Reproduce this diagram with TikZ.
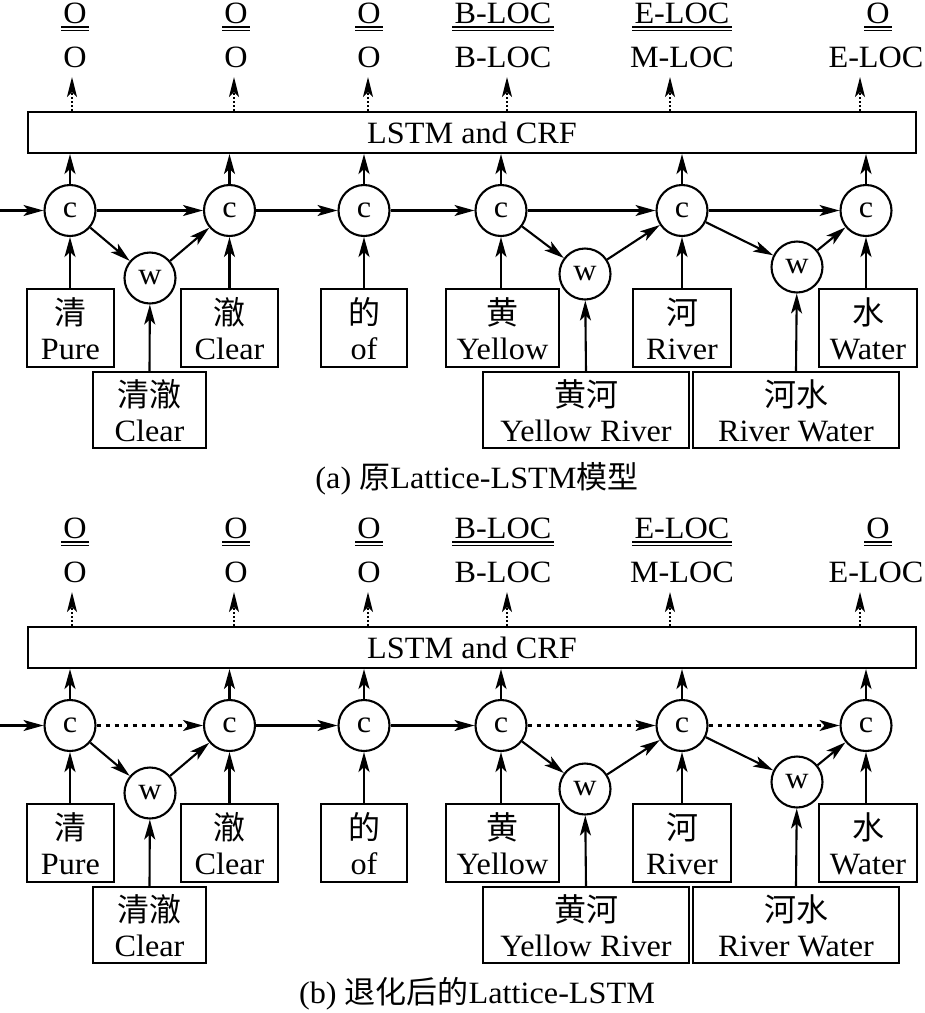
\documentclass[tikz,border=0pt]{standalone}
\usepackage{fontspec}
\setmainfont{Liberation Serif}[FakeStretch=1.04]
\newfontfamily\cjk{Noto Sans CJK SC}
\usetikzlibrary{arrows.meta}
\tikzset{
  txt/.style={font=\fontsize{31}{34}\selectfont, inner sep=0pt},
  cnode/.style={circle, draw, line width=2.1pt, minimum size=51pt, inner sep=0pt, font=\fontsize{31}{34}\selectfont},
  wbox/.style={draw, line width=2.1pt, inner sep=0pt},
  lbox/.style={draw, line width=2.1pt, minimum width=888pt, minimum height=41pt, inner sep=0pt, font=\fontsize{31}{34}\selectfont},
  arr/.style={line width=2.1pt, -{Stealth[length=20pt,width=11pt,inset=5pt]}},
  uparr/.style={line width=1.7pt, dash pattern=on 2pt off 2pt, -{Stealth[length=20pt,width=10pt,inset=5pt]}},
  dotarr/.style={arr, dash pattern=on 4pt off 5pt},
  solidarr/.style={arr},
  uline/.style={line width=1.6pt},
}
\newcommand\wordbox[7]{%
  \node[wbox, minimum width=#4pt, minimum height=#5pt] (#1) at (#2,#3) {};
  \node[txt, anchor=base] (#1cn) at (#2,#3-4) {\cjk\fontsize{32}{34}\selectfont #6};
  \node[txt, anchor=base] (#1en) at (#2,#3+31.5) {#7};
}
\newcommand\dul[1]{%
  \draw[uline] ([xshift=-2pt,yshift=-3.5pt]#1.south west) -- ([xshift=2pt,yshift=-3.5pt]#1.south east);
  \draw[uline] ([xshift=-2pt,yshift=-7pt]#1.south west) -- ([xshift=2pt,yshift=-7pt]#1.south east);
}
\newcommand\drawpanel[5]{%
  % gold labels
  \node[txt, anchor=base] (ga1#1) at (75,23) {O};
  \node[txt, anchor=base] (ga2#1) at (236,23) {O};
  \node[txt, anchor=base] (ga3#1) at (369,23) {O};
  \node[txt, anchor=base] (ga4#1) at (503,23) {B-LOC};
  \node[txt, anchor=base] (ga5#1) at (682,23) {E-LOC};
  \node[txt, anchor=base] (ga6#1) at (878,23) {O};
  \dul{ga1#1}\dul{ga2#1}\dul{ga3#1}\dul{ga4#1}\dul{ga5#1}\dul{ga6#1}
  % predicted labels
  \node[txt, anchor=base] (pa1#1) at (75,67) {O};
  \node[txt, anchor=base] (pa2#1) at (236,67) {O};
  \node[txt, anchor=base] (pa3#1) at (369,67) {O};
  \node[txt, anchor=base] (pa4#1) at (503,67) {B-LOC};
  \node[txt, anchor=base] (pa5#1) at (682,67) {M-LOC};
  \node[txt, anchor=base] (pa6#1) at (876,67) {E-LOC};
  \coordinate (t1#1) at (72,77);
  \coordinate (t2#1) at (234,77);
  \coordinate (t3#1) at (368,77);
  \coordinate (t4#1) at (507,77);
  \coordinate (t5#1) at (670,77);
  \coordinate (t6#1) at (860,77);
  % LSTM box
  \node[lbox] (lstm#1) at (472,132.5) {LSTM and CRF};
  % cells
  \node[cnode] (c1#1) at (70,210.5) {c};
  \node[cnode] (c2#1) at (229.5,210.5) {c};
  \node[cnode] (c3#1) at (364,210.5) {c};
  \node[cnode] (c4#1) at (501,210.5) {c};
  \node[cnode] (c5#1) at (682,210.5) {c};
  \node[cnode] (c6#1) at (866,210.5) {c};
  \node[cnode] (w1#1) at (150,278) {w};
  \node[cnode] (w2#1) at (585,274) {w};
  \node[cnode] (w3#1) at (797,267) {w};
  % word boxes
  \wordbox{bq#1}{70.5}{328}{87}{78}{清}{Pure}
  \wordbox{bc#1}{229.5}{328}{97}{78}{澈}{Clear}
  \wordbox{bd#1}{364}{328}{86}{78}{的}{of}
  \wordbox{bh#1}{502.5}{328}{113}{78}{黄}{Yellow}
  \wordbox{br#1}{682}{328}{98}{78}{河}{River}
  \wordbox{bs#1}{868}{328}{98}{78}{水}{Water}
  \wordbox{bqc#1}{149.5}{410}{113}{76}{清澈}{Clear}
  \wordbox{bhh#1}{586}{410}{206}{76}{黄河}{Yellow River}
  \wordbox{bhs#1}{796}{410}{206}{76}{河水}{River Water}
  % arrows up to labels
  \foreach \k in {1,...,6} {
    \draw[uparr] (lstm#1.north -| t\k#1) -- (t\k#1);
    \draw[arr] (c\k#1) -- (c\k#1 |- lstm#1.south);
  }
  % chain
  \coordinate (in#1) at (0,210.5);
  \draw[arr] (in#1) -- (c1#1);
  \draw[#2] (c1#1) -- (c2#1);
  \draw[arr] (c2#1) -- (c3#1);
  \draw[arr] (c3#1) -- (c4#1);
  \draw[#3] (c4#1) -- (c5#1);
  \draw[#4] (c5#1) -- (c6#1);
  % lattice paths
  \draw[arr] (c1#1) -- (w1#1);
  \draw[arr] (w1#1) -- (c2#1);
  \draw[arr] (c4#1) -- (w2#1);
  \draw[arr] (w2#1) -- (c5#1);
  \draw[arr] (c5#1) -- (w3#1);
  \draw[arr] (w3#1) -- (c6#1);
  % inputs
  \draw[arr] (c1#1.south |- bq#1.north) -- (c1#1.south);
  \draw[arr] (c2#1.south |- bc#1.north) -- (c2#1.south);
  \draw[arr] (c3#1.south |- bd#1.north) -- (c3#1.south);
  \draw[arr] (c4#1.south |- bh#1.north) -- (c4#1.south);
  \draw[arr] (c5#1.south |- br#1.north) -- (c5#1.south);
  \draw[arr] (c6#1.south |- bs#1.north) -- (c6#1.south);
  \draw[arr] (bqc#1.north) -- (w1#1);
  \draw[arr] (bhh#1.north) -- (w2#1);
  \draw[arr] (bhs#1.north) -- (w3#1);
  % caption
  \node[txt, anchor=base] (cap#1) at (477,488) {#5};
}
\begin{document}
\begin{tikzpicture}[x=1pt, y=-1pt]
  \useasboundingbox (0,0) rectangle (925,1013);
  \fill[white] (0,0) rectangle (925,1013);
  \drawpanel{a}{solidarr}{solidarr}{solidarr}{(a) {\cjk 原}Lattice-LSTM{\cjk 模型}}
  \begin{scope}[yshift=-515pt]
    \drawpanel{b}{dotarr}{dotarr}{dotarr}{(b) {\cjk 退化后的}Lattice-LSTM}
  \end{scope}
\end{tikzpicture}
\end{document}
